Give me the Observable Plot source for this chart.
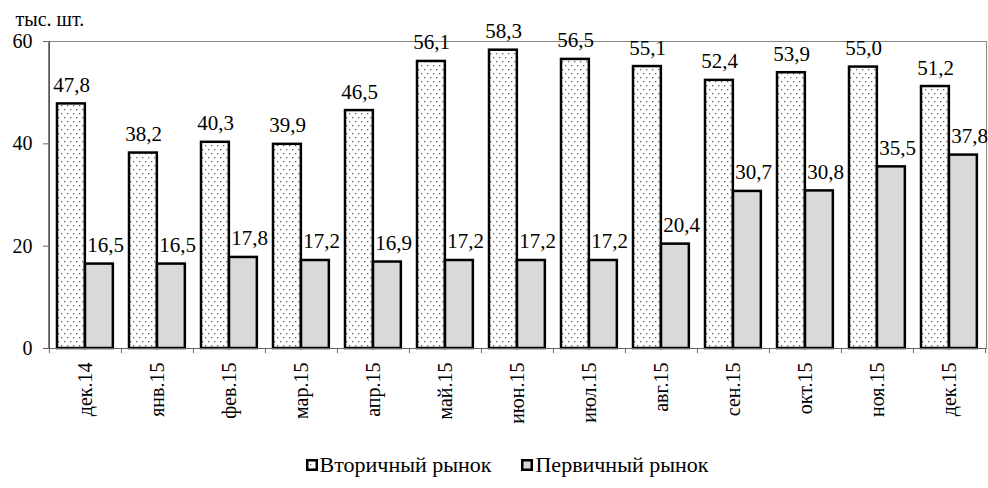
<!DOCTYPE html>
<html>
<head>
<meta charset="utf-8">
<script src="https://cdn.jsdelivr.net/npm/d3@7"></script>
<script src="https://cdn.jsdelivr.net/npm/@observablehq/plot@0.6"></script>
<style>
  html, body { margin: 0; padding: 0; background: #fff; }
  body { width: 988px; height: 488px; overflow: hidden; }
  #legend { display: flex; justify-content: center; align-items: center; height: 24px; margin-top: 5px; padding-left: 26px; font-size: 22px; color: #000; font-family: 'Liberation Serif'; }
  .item { display: flex; align-items: center; margin: 0 15px; }
  .item span { font-family: 'Liberation Serif'; }
  .item svg { margin-right: 2px; }
</style>
</head>
<body>
<div id="chart"></div>
<div id="legend"></div>
<script>
const months = ["дек.14","янв.15","фев.15","мар.15","апр.15","май.15","июн.15","июл.15","авг.15","сен.15","окт.15","ноя.15","дек.15"];
const secondary = [47.8, 38.2, 40.3, 39.9, 46.5, 56.1, 58.3, 56.5, 55.1, 52.4, 53.9, 55.0, 51.2];
const primary = [16.5, 16.5, 17.8, 17.2, 16.9, 17.2, 17.2, 17.2, 20.4, 30.7, 30.8, 35.5, 37.8];
const yTicks = [0, 20, 40, 60];
const seriesNames = ["Вторичный рынок", "Первичный рынок"];
const unitLabel = "тыс. шт.";

const W = 988, H = 448, mL = 48, mR = 2, mT = 41, mB = 100;
const bw = (W - mL - mR) / months.length;
const fmt = v => v.toFixed(1).replace(".", ",");
const FONT = "'Liberation Serif'";

const secData = months.map((m, i) => ({month: m, value: secondary[i]}));
const priData = months.map((m, i) => ({month: m, value: primary[i]}));

const axisColor = "#666";

const svg = Plot.plot({
  width: W, height: H,
  marginLeft: mL, marginRight: mR, marginTop: mT, marginBottom: mB,
  style: {fontFamily: FONT, fontSize: "19px", color: "#000", background: "#fff"},
  x: {domain: months, padding: 0, axis: null, label: null},
  y: {domain: [0, 60], axis: null, label: null},
  marks: [
    Plot.frame({stroke: "#888"}),
    Plot.barY(secData, {x: "month", y: "value", fill: "url(#dots)", stroke: "#000", strokeWidth: 2.5,
      insetLeft: 8, insetRight: bw - 36}),
    Plot.barY(priData, {x: "month", y: "value", fill: "#d9d9d9", stroke: "#000", strokeWidth: 2.5,
      insetLeft: 36, insetRight: bw - 64}),
    Plot.ruleY([0], {stroke: axisColor}),
    Plot.ruleX([months[0]], {x: d => d, dx: -bw / 2, stroke: "#444"}),
    Plot.ruleX(months, {x: d => d, y1: 0, y2: -1, dx: -bw / 2, stroke: axisColor}),
    Plot.ruleX([months[months.length - 1]], {x: d => d, y1: 0, y2: -1, dx: bw / 2, stroke: axisColor}),
    Plot.axisY({ticks: yTicks, tickSize: 5, tickPadding: 11, tickFormat: d => d, stroke: axisColor, fill: "#000", fontSize: 20, label: null}),
    Plot.axisX({tickSize: 0, tickPadding: 14, tickRotate: -90, fill: "#000", fontSize: 20, label: null}),
    Plot.text(secData, {x: "month", y: "value", text: d => fmt(d.value), dx: -14, dy: -12, lineAnchor: "bottom", fill: "#000", fontSize: 21}),
    Plot.text(priData, {x: "month", y: "value", text: d => fmt(d.value), dx: 20, dy: -12, lineAnchor: "bottom", fill: "#000", fontSize: 21}),
    Plot.text([unitLabel], {text: d => d, frameAnchor: "top-left", dx: -mL + 15, dy: -mT + 11, lineAnchor: "top", textAnchor: "start", fill: "#000", fontSize: 20})
  ]
});

// force serif font on every text node
d3.select(svg).attr("font-family", "Liberation Serif").style("font-family", FONT);
d3.select(svg).selectAll("g").attr("font-family", "Liberation Serif");
d3.select(svg).selectAll("text").attr("font-family", "Liberation Serif").style("font-family", FONT);

// dotted pattern
const defs = d3.select(svg).insert("defs", ":first-child");
const pat = defs.append("pattern").attr("id", "dots").attr("patternUnits", "userSpaceOnUse")
  .attr("width", 6).attr("height", 8);
pat.append("rect").attr("width", 6).attr("height", 8).attr("fill", "#fff");
pat.append("rect").attr("x", 1).attr("y", 1).attr("width", 1.3).attr("height", 1.3).attr("fill", "#666");
pat.append("rect").attr("x", 4).attr("y", 5).attr("width", 1.3).attr("height", 1.3).attr("fill", "#666");

document.getElementById("chart").appendChild(svg);

// legend
const fills = ["url(#dots)", "#d9d9d9"];
const legend = d3.select("#legend");
seriesNames.forEach((name, i) => {
  const it = legend.append("div").attr("class", "item");
  const s = it.append("svg").attr("width", 12).attr("height", 12);
  s.append("rect").attr("x", 1.25).attr("y", 1.25).attr("width", 9.5).attr("height", 9.5)
    .attr("fill", fills[i]).attr("stroke", "#000").attr("stroke-width", 2.5);
  it.append("span").text(name);
});
</script>
</body>
</html>
